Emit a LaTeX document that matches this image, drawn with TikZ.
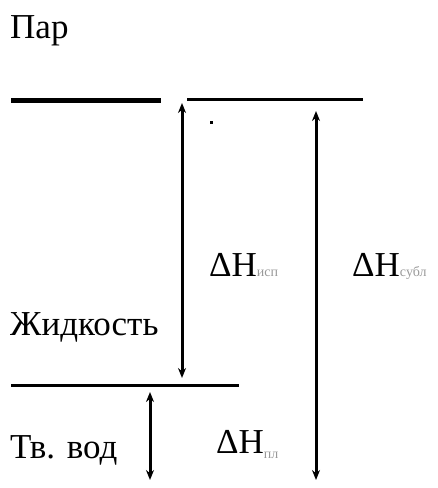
\documentclass[tikz,border=0pt]{standalone}
\usepackage{fontspec}
\setmainfont{Liberation Serif}
\newfontfamily\lsf{Liberation Serif}[Scale=1.0]
\usetikzlibrary{arrows.meta}
\tikzset{
  lbl/.style={anchor=base west,inner sep=0pt,font=\lsf\fontsize{35pt}{36pt}\selectfont},
  lvl/.style={line width=#1,line cap=butt},
  darr/.style={line width=3pt,{Stealth[length=10pt,width=8pt]}-{Stealth[length=10pt,width=8pt]}},
}
\newcommand{\subg}[1]{{\fontsize{14pt}{14pt}\selectfont\color{black!40}#1}}
\begin{document}
\begin{tikzpicture}[x=1pt,y=-1pt]
\useasboundingbox (0,0) rectangle (438,488);
% labels
\node[lbl] (par) at (10,38) {Пар};
\node[lbl] (zhid) at (10,335) {Жидкость};
\node[lbl] (tv) at (10,458) {Тв. вод};
\node[lbl] (hisp) at (209,276) {ΔH\subg{исп}};
\node[lbl] (hsub) at (352,276) {ΔH\subg{субл}};
\node[lbl] (hpl) at (216,453) {ΔH\raisebox{-5pt}{\subg{пл}}};
% levels
\coordinate (pL1) at (11,100.5);
\coordinate (pL2) at (161,100.5);
\coordinate (pR1) at (187,99.7);
\coordinate (pR2) at (363,99.7);
\coordinate (l1) at (11,385.5);
\coordinate (l2) at (239,385.5);
\draw[lvl=4.2pt] (pL1) -- (pL2);
\draw[lvl=2.8pt] (pR1) -- (pR2);
\draw[lvl=3.6pt] (l1) -- (l2);
% arrows
\coordinate (a1t) at (182,103);
\coordinate (a1b) at (182,378);
\coordinate (a2t) at (316,111);
\coordinate (a2b) at (316,480);
\coordinate (a3t) at (150,392);
\coordinate (a3b) at (150,480);
\draw[darr] (a1t) -- (a1b);
\draw[darr] (a2t) -- (a2b);
\draw[darr] (a3t) -- (a3b);
% stray dot
\fill (210,121) rectangle (213,124);
\end{tikzpicture}
\end{document}
